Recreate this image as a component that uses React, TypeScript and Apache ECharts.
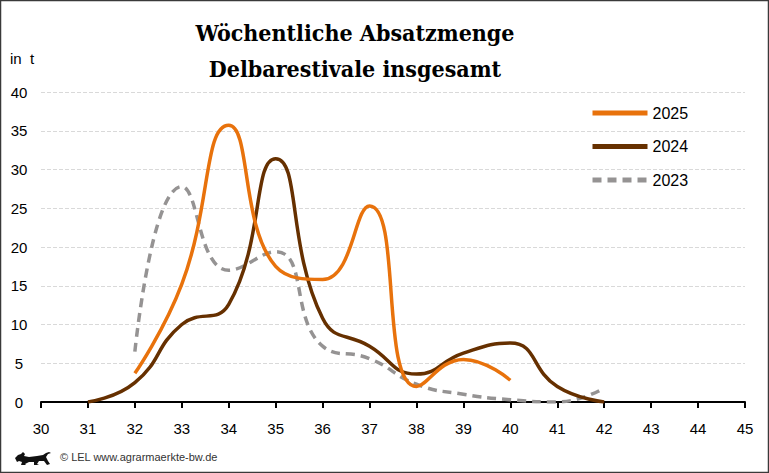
import React, { useEffect, useRef } from "react";
import * as echarts from "echarts";

const weeks2025 = [32, 33, 34, 35, 36, 37, 38, 39, 40];
const values2025 = [3.7, 15.2, 35.7, 17.5, 15.8, 25.3, 2.0, 5.5, 2.8];

const weeks2024 = [31, 32, 33, 34, 35, 36, 37, 38, 39, 40, 41, 42];
const values2024 = [0, 2.5, 10.0, 12.6, 31.4, 10.8, 7.2, 3.6, 6.3, 7.6, 2.0, 0];

const weeks2023 = [32, 33, 34, 35, 36, 37, 38, 39, 40, 41, 42];
const values2023 = [6.5, 27.8, 17.0, 19.4, 7.2, 5.6, 2.3, 1.0, 0.3, 0, 1.8];

const xTicks = { min: 30, max: 45, interval: 1 };
const yTicks = { min: 0, max: 40, interval: 5 };

const seriesNames = ["2025", "2024", "2023"];
const titleLines = ["Wöchentliche Absatzmenge", "Delbarestivale insgesamt"];

const lionPath =
  "M0,6 L3,3 L6,2 L8,0 L10,2 L9,4 L14,5 L22,4 L28,3 L31,1 L34,0 L36,1 L33,2 L31,5 L33,9 L35,12 L32,13 L29,9 L24,9 L22,12 L24,13 L19,13 L19,10 L14,10 L10,12 L11,13 L6,13 L7,10 L4,9 L2,10 L1,8 Z";

export default function App() {
  const ref = useRef<HTMLDivElement>(null);
  useEffect(() => {
    if (!ref.current) return;
    echarts.graphic.registerShape("lion", echarts.graphic.extendPath(lionPath, {}));
    const chart = echarts.init(ref.current, null, { renderer: "svg" });
    const pair = (w: number[], v: number[]) => w.map((x, i) => [x, v[i]]);
    const sans = "'Liberation Sans', Arial, sans-serif";
    const serif = "'DejaVu Serif Condensed', 'DejaVu Serif', 'Liberation Serif', serif";
    chart.setOption({
      animation: false,
      backgroundColor: "#ffffff",
      grid: { left: 41, right: 24, top: 92, bottom: 71 },
      legend: {
        orient: "vertical",
        left: 585,
        top: 100,
        itemWidth: 55,
        itemHeight: 14,
        itemGap: 17.5,
        data: seriesNames,
        itemStyle: { opacity: 0 },
        lineStyle: { width: 5 },
        textStyle: { fontFamily: sans, fontSize: 16, color: "#000" },
      },
      xAxis: {
        type: "value",
        min: xTicks.min,
        max: xTicks.max,
        interval: xTicks.interval,
        axisLine: { show: true, lineStyle: { color: "#000", width: 2 } },
        axisTick: { show: true, length: 6, lineStyle: { color: "#000", width: 2 } },
        axisLabel: { fontFamily: sans, fontSize: 15, color: "#000", margin: 19 },
        splitLine: { show: false },
      },
      yAxis: {
        type: "value",
        min: yTicks.min,
        max: yTicks.max,
        interval: yTicks.interval,
        axisLine: { show: false },
        axisTick: { show: false },
        axisLabel: { fontFamily: sans, fontSize: 15, color: "#000", margin: 22, align: "center" },
        splitLine: { show: true, lineStyle: { color: "#d9d9d9", type: "dashed", width: 1 } },
      },
      series: [
        {
          name: "2025",
          type: "line",
          data: pair(weeks2025, values2025),
          smooth: 0.5,
          symbol: "none",
          lineStyle: { color: "#E8720C", width: 3.5 },
          itemStyle: { color: "#E8720C" },
          z: 4,
        },
        {
          name: "2024",
          type: "line",
          data: pair(weeks2024, values2024),
          smooth: 0.5,
          symbol: "none",
          lineStyle: { color: "#663000", width: 3.5 },
          itemStyle: { color: "#663000" },
          z: 3,
        },
        {
          name: "2023",
          type: "line",
          data: pair(weeks2023, values2023),
          smooth: 0.5,
          symbol: "none",
          lineStyle: { color: "#959393", width: 3.5, type: [9, 6] },
          itemStyle: { color: "#959393" },
          z: 2,
        },
      ],
      graphic: [
        {
          type: "rect",
          shape: { x: 0.5, y: 0.5, width: 768, height: 472 },
          style: { fill: "none", stroke: "#3a3a3a", lineWidth: 1.5 },
          silent: true,
        },
        ...titleLines.map((t, i) => ({
          type: "text",
          x: 355,
          y: 32 + i * 36,
          style: {
            text: t,
            fontFamily: serif,
            fontSize: 23,
            fontWeight: "bold",
            fill: "#000",
            align: "center",
            verticalAlign: "middle",
          },
        })),
        {
          type: "text",
          x: 10,
          y: 58,
          style: {
            text: "in  t",
            fontFamily: sans,
            fontSize: 15,
            fill: "#000",
            verticalAlign: "middle",
          },
        },
        {
          type: "lion",
          x: 15,
          y: 452,
          scaleX: 1,
          scaleY: 1,
          style: { fill: "#111" },
        },
        {
          type: "text",
          x: 60,
          y: 457,
          style: {
            text: "© LEL www.agrarmaerkte-bw.de",
            fontFamily: sans,
            fontSize: 11,
            fill: "#333",
            verticalAlign: "middle",
          },
        },
      ],
    });
    return () => chart.dispose();
  }, []);
  return (
    <div
      ref={ref}
      style={{ position: "absolute", left: 0, top: 0, width: 769, height: 473 }}
    />
  );
}
